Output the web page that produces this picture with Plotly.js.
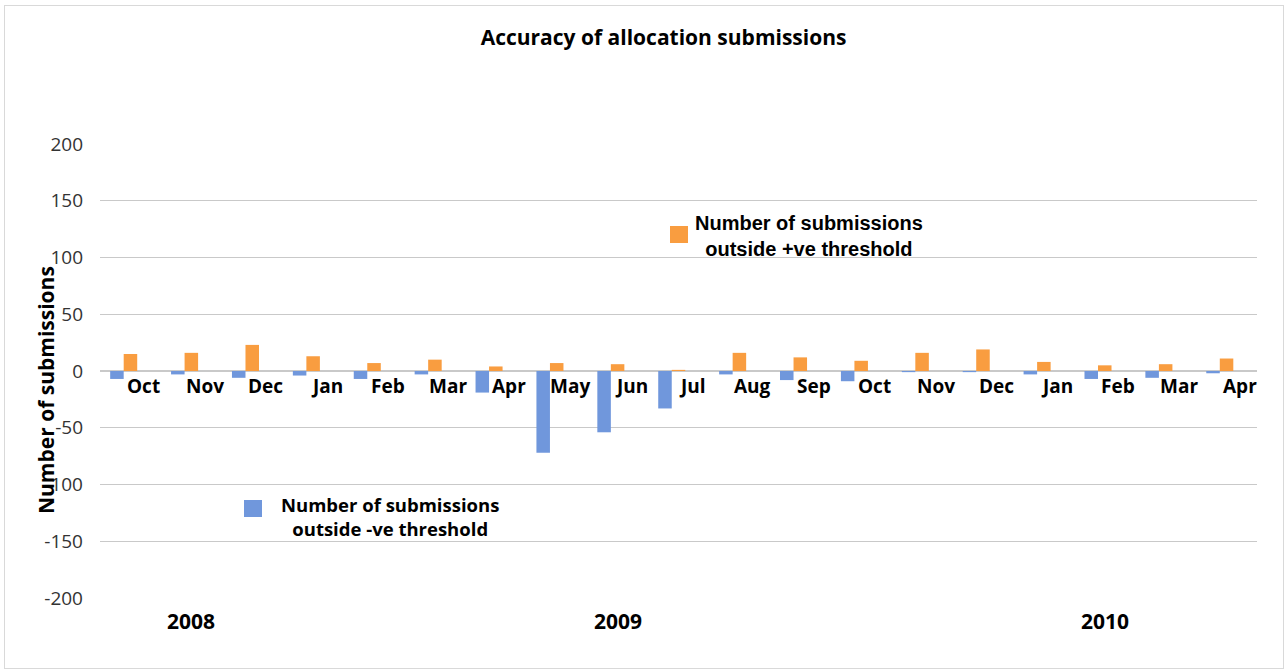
<!DOCTYPE html>
<html>
<head>
<meta charset="utf-8">
<script src="https://cdn.plot.ly/plotly-3.0.1.min.js"></script>
<style>
  html, body { margin: 0; padding: 0; background: #ffffff; }
  #frame { position: absolute; left: 4px; top: 5px; width: 1280px; height: 664px; border: 1px solid #d9d9d9; box-sizing: border-box; pointer-events: none; }
  #chart { position: absolute; left: 0; top: 0; width: 1286px; height: 671px; }
</style>
</head>
<body>
<div id="chart"></div>
<div id="frame"></div>
<script>
// Monthly submissions, Oct 2008 to Apr 2010
const months = ['Oct','Nov','Dec','Jan','Feb','Mar','Apr','May','Jun','Jul','Aug','Sep','Oct','Nov','Dec','Jan','Feb','Mar','Apr'];
const outsidePositive = [15, 16, 23, 13, 7, 10, 4, 7, 6, 1, 16, 12, 9, 16, 19, 8, 5, 6, 11];
const outsideNegative = [-7, -3, -6, -4, -7, -3, -19, -72, -54, -33, -3, -8, -9, -1, -1, -3, -7, -6, -2];
const years = ['2008', '2009', '2010'];
const yearLabelAt = [1, 8, 16];   // category index under which each year label sits
const yTicks = [200, 150, 100, 50, 0, -50, -100, -150, -200];

const positiveName = 'Number of submissions<br>outside +ve threshold';
const negativeName = 'Number of submissions<br>outside -ve threshold';

const BLUE = '#7097dc';
const ORANGE = '#f99d40';
const idx = months.map((m, i) => i);
const BW = 0.222;

const traces = [
  { type: 'bar', x: idx, y: outsideNegative, name: negativeName, width: BW, offset: -1.5 * BW,
    marker: { color: BLUE }, hoverinfo: 'y', showlegend: false },
  { type: 'bar', x: idx, y: outsidePositive, name: positiveName, width: BW, offset: -0.5 * BW,
    marker: { color: ORANGE }, hoverinfo: 'y', showlegend: false }
];

const boldSans = { family: 'Open Sans, Noto Sans, sans-serif', weight: 700, color: '#000' };

const annotations = [];
// month labels sit just under the zero line, in the third slot of each group
months.forEach((m, i) => {
  annotations.push({ x: i + BW, y: 0, xref: 'x', yref: 'y', text: m, showarrow: false,
    xanchor: 'center', yanchor: 'middle', yshift: -15,
    font: Object.assign({ size: 19 }, boldSans) });
});
// year labels beneath the plot area
years.forEach((yr, k) => {
  annotations.push({ x: yearLabelAt[k], y: 0, xref: 'x', yref: 'paper', text: yr, showarrow: false,
    xanchor: 'center', yanchor: 'middle', yshift: -23,
    font: Object.assign({ size: 21 }, boldSans) });
});
// y-axis title
annotations.push({ x: 0, y: 0.5, xref: 'paper', yref: 'paper', text: 'Number of submissions',
  textangle: -90, showarrow: false, xanchor: 'center', yanchor: 'middle', xshift: -54, yshift: -19,
  font: Object.assign({ size: 21 }, boldSans) });
// series keys
annotations.push({ x: 809, y: 236, xref: 'x domain', yref: 'paper', text: positiveName, showarrow: false,
  align: 'center', xanchor: 'center', yanchor: 'middle',
  font: { family: 'Liberation Sans, Arial, sans-serif', weight: 700, size: 20, color: '#000' } });
annotations.push({ x: 390, y: 516, xref: 'x domain', yref: 'paper', text: negativeName, showarrow: false,
  align: 'center', xanchor: 'center', yanchor: 'middle',
  font: Object.assign({ size: 18.5 }, boldSans) });

// pixel helpers for the key placement
const L = 100, R = 29, T = 144, B = 73, W = 1286, H = 671;
const pw = W - L - R, ph = H - T - B;
const px = v => (v - L) / pw;
const py = v => (H - B - v) / ph;
annotations.forEach(a => {
  if (a.xref === 'x domain') { a.xref = 'paper'; a.x = px(a.x); a.y = py(a.y); }
});

const shapes = [
  { type: 'rect', xref: 'paper', yref: 'paper', x0: px(670), x1: px(688), y0: py(243), y1: py(226),
    line: { width: 0 }, fillcolor: ORANGE },
  { type: 'rect', xref: 'paper', yref: 'paper', x0: px(244), x1: px(262), y0: py(517), y1: py(500),
    line: { width: 0 }, fillcolor: BLUE }
];

const layout = {
  width: W, height: H,
  margin: { l: L, r: R, t: T, b: B, pad: 0 },
  paper_bgcolor: '#ffffff', plot_bgcolor: '#ffffff',
  title: { text: 'Accuracy of allocation submissions', x: 0.516, xanchor: 'center',
    y: 1 - 38 / H, yanchor: 'middle', yref: 'container',
    font: Object.assign({ size: 21 }, boldSans) },
  barmode: 'overlay',
  showlegend: false,
  xaxis: { range: [-0.5, months.length - 0.5], showticklabels: false, showgrid: false,
    zeroline: false, showline: false, ticks: '', fixedrange: true },
  yaxis: { range: [-200, 200], tickvals: yTicks, ticktext: yTicks.map(String),
    showgrid: true, gridcolor: '#c9c9c9', gridwidth: 1,
    zeroline: true, zerolinecolor: '#c9c9c9', zerolinewidth: 2,
    showline: false, ticks: '', ticklabelstandoff: 16,
    tickfont: { family: 'Open Sans, Noto Sans, sans-serif', size: 19, color: '#333' }, fixedrange: true },
  annotations: annotations,
  shapes: shapes
};

Plotly.newPlot('chart', traces, layout, { displayModeBar: false, staticPlot: true });
</script>
</body>
</html>
